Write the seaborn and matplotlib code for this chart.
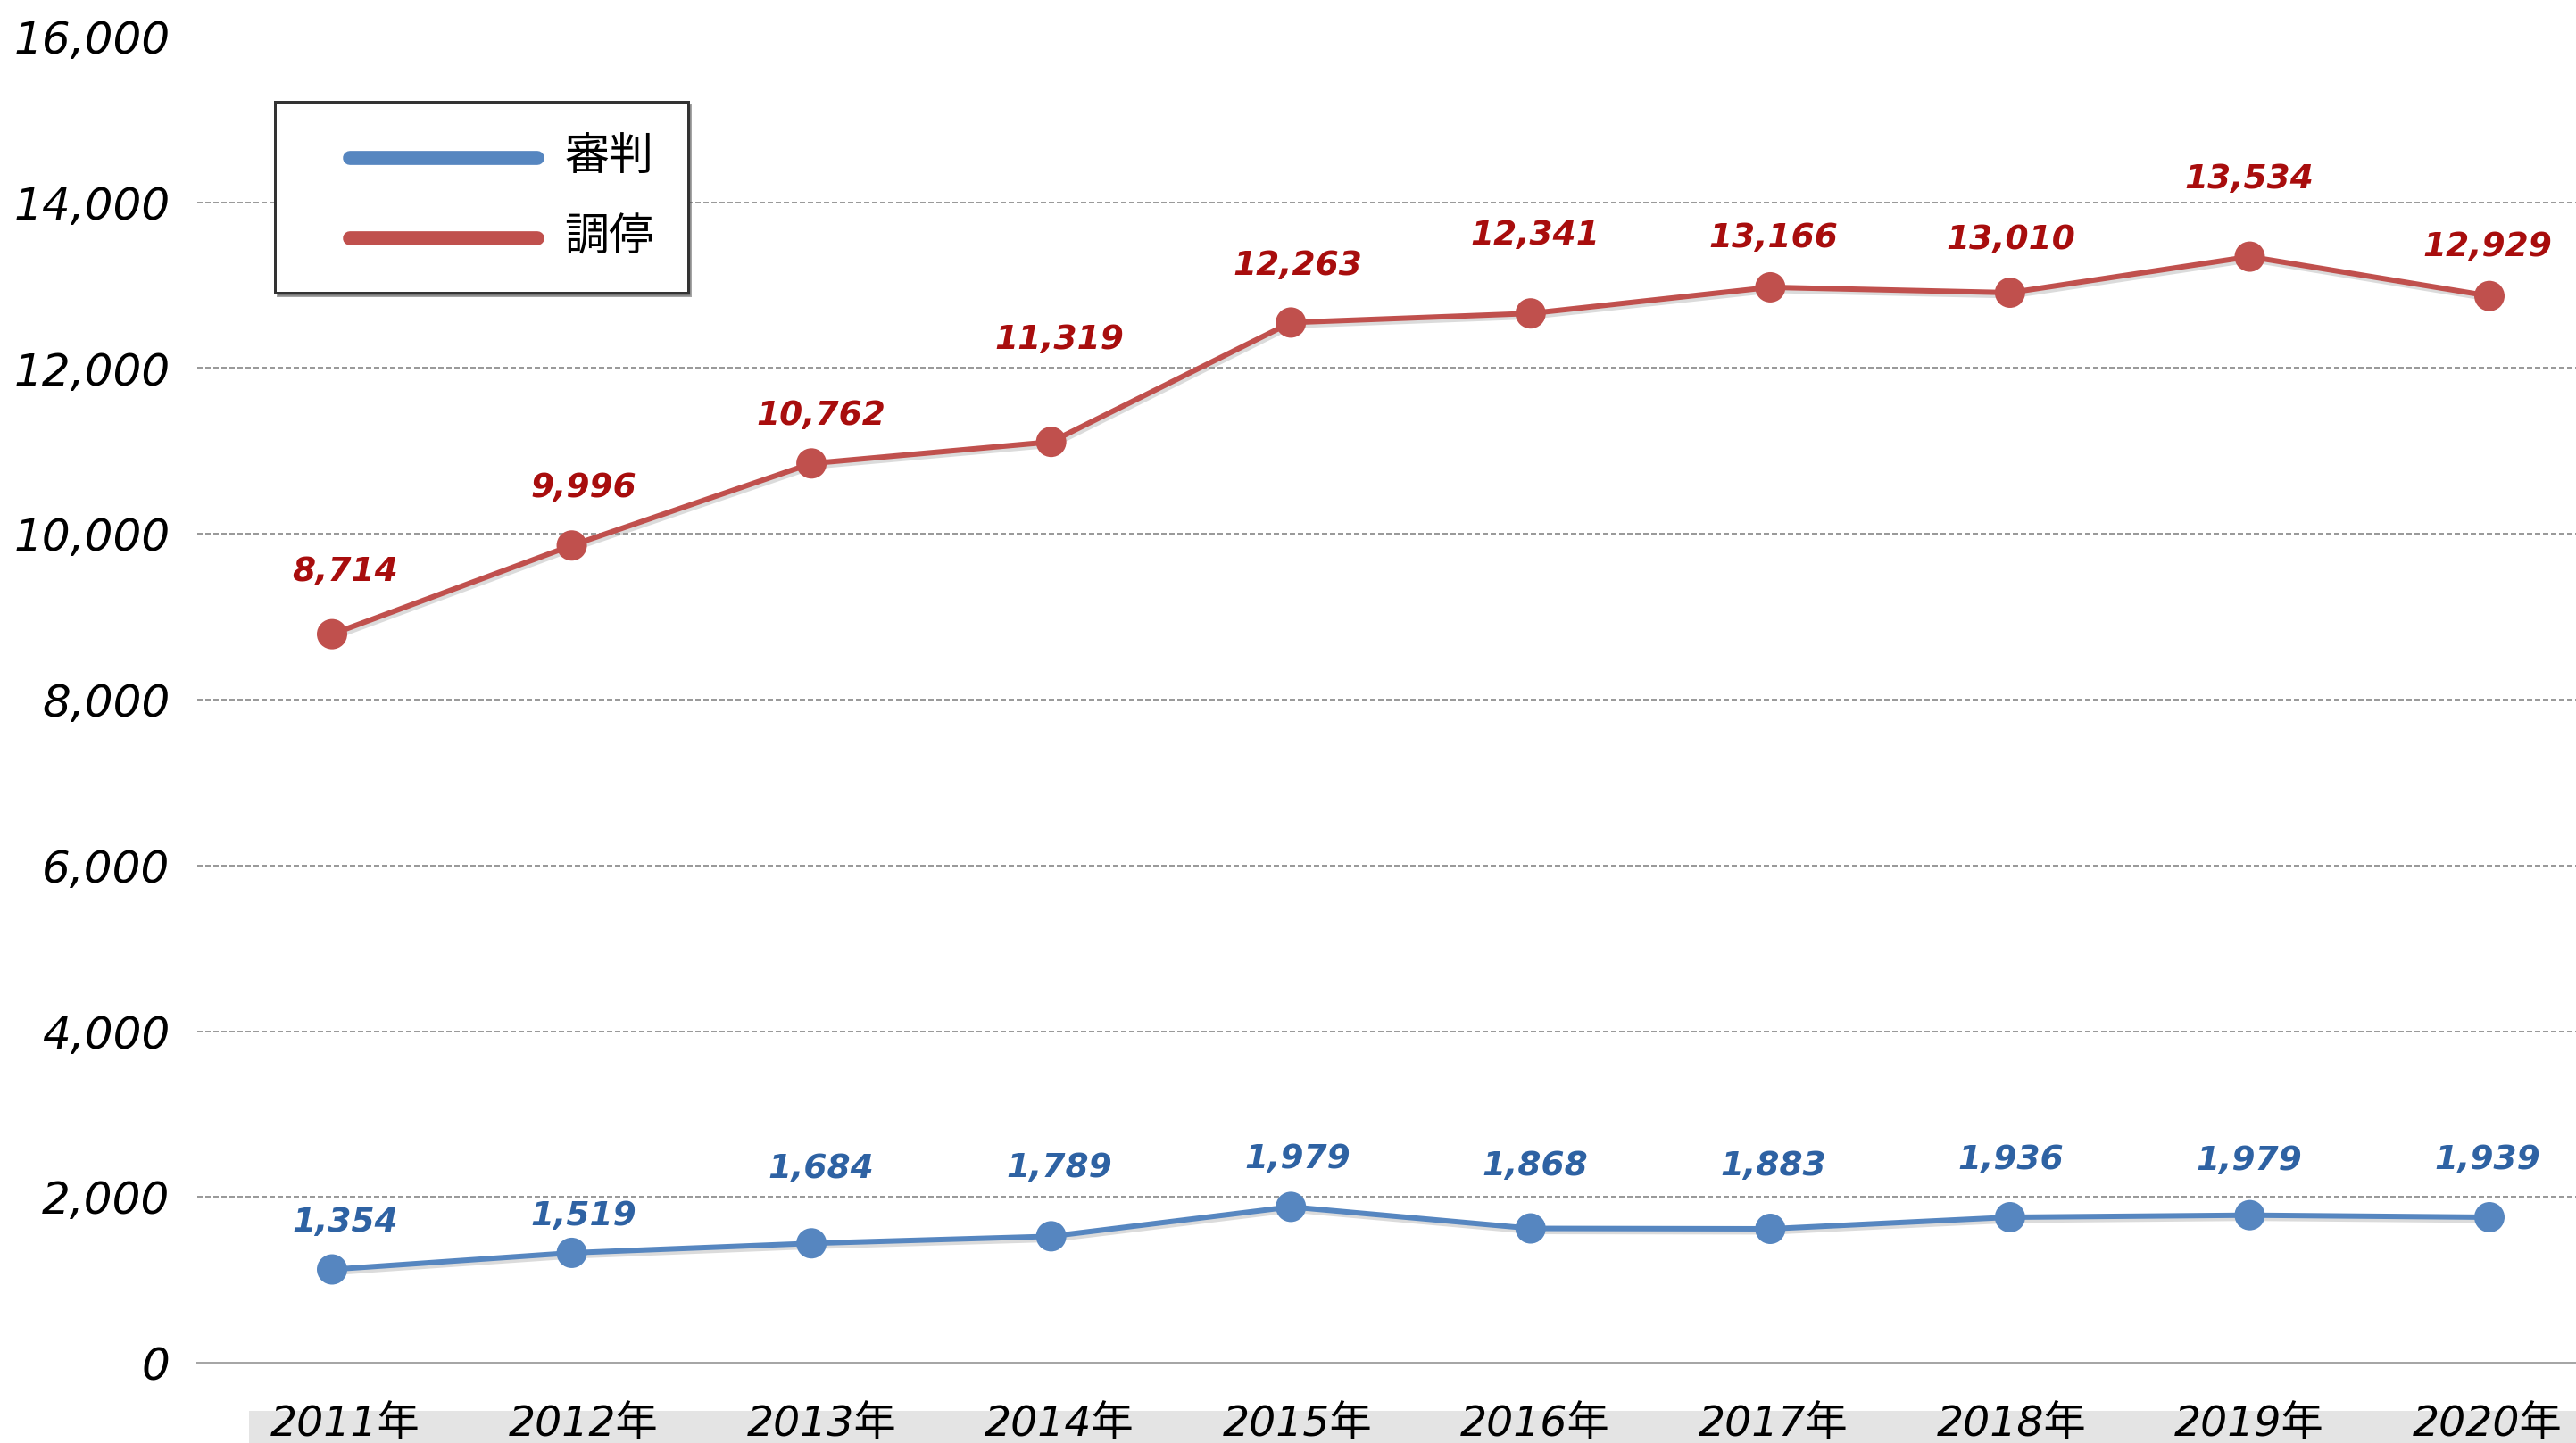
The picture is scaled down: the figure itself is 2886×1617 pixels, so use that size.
import matplotlib
matplotlib.use("Agg")
import matplotlib.pyplot as plt
import matplotlib.patheffects as pe
from matplotlib.lines import Line2D
from matplotlib.patches import Rectangle
from matplotlib.legend_handler import HandlerBase
from matplotlib.ticker import FuncFormatter, FixedLocator
import seaborn as sns
import pandas as pd

# ---------------- data ----------------
years = ["2011年", "2012年", "2013年", "2014年", "2015年",
         "2016年", "2017年", "2018年", "2019年", "2020年"]
series_names = ["審判", "調停"]
shinpan_plot = [1125, 1325, 1440, 1525, 1880, 1620, 1615, 1755, 1780, 1755]
chotei_plot = [8790, 9860, 10850, 11110, 12550, 12660, 12975, 12910, 13345, 12870]
shinpan_labels = ["1,354", "1,519", "1,684", "1,789", "1,979",
                  "1,868", "1,883", "1,936", "1,979", "1,939"]
chotei_labels = ["8,714", "9,996", "10,762", "11,319", "12,263",
                 "12,341", "13,166", "13,010", "13,534", "12,929"]
y_ticks = [0, 2000, 4000, 6000, 8000, 10000, 12000, 14000, 16000]

# label offsets above points (pixels)
shinpan_dy = [53, 41, 83, 76, 53, 70, 70, 64, 61, 64]
chotei_dy = [70, 64, 53, 114, 63, 87, 55, 59, 87, 55]

blue = "#5686C0"
red = "#C0504D"
blue_txt = "#2E62A3"
red_txt = "#A80D0D"

sns.set_theme(style="white")
plt.rcParams["font.family"] = ["DejaVu Sans", "Noto Sans CJK JP"]
plt.rcParams["text.color"] = "black"
plt.rcParams["xtick.color"] = "black"
plt.rcParams["ytick.color"] = "black"

W, H = 2886, 1617
dpi = 100
pt = 72 / dpi
fig = plt.figure(figsize=(W / dpi, H / dpi), dpi=dpi)
fig.patch.set_facecolor("white")

ax_left, ax_right = 221, 2886
ax_top, ax_bot = 41, 1527
ax = fig.add_axes([ax_left / W, 1 - ax_bot / H, (ax_right - ax_left) / W, (ax_bot - ax_top) / H])
ax.patch.set_alpha(0)

n = len(years)
xpos = list(range(n))
df = pd.DataFrame({
    "x": xpos * 2,
    "value": shinpan_plot + chotei_plot,
    "series": [series_names[0]] * n + [series_names[1]] * n,
})

shadow = [pe.SimpleLineShadow(offset=(1.5, -2.5), shadow_color="#999999", alpha=0.35), pe.Normal()]
for name, col in zip(series_names, [blue, red]):
    sub = df[df["series"] == name]
    sns.lineplot(data=sub, x="x", y="value", color=col, lw=6 * pt, marker="o",
                 markersize=34 * pt, markeredgewidth=0, ax=ax, legend=False,
                 path_effects=shadow, zorder=3)

# axis scaling: point 0 at px 372, point 9 at px 2789
px_per_unit = (2789 - 372) / 9
ax.set_xlim(-(372 - ax_left) / px_per_unit, (ax_right - 372) / px_per_unit)
ax.set_ylim(0, 16000)

# category geometry
cat_w = 266.6 / px_per_unit
cat0 = (387 - 372) / px_per_unit
centers = [cat0 + cat_w * i for i in range(n)]
bounds = [cat0 + cat_w * (i + 0.5) for i in range(n - 1)]

ax.xaxis.set_major_locator(FixedLocator(centers))
ax.set_xticklabels(years)
ax.xaxis.set_minor_locator(FixedLocator(bounds))
ax.tick_params(axis="x", which="major", length=0, pad=34, labelsize=34, labelcolor="black")
ax.tick_params(axis="x", which="minor", length=32 * pt, width=2 * pt,
               direction="inout", color="#A6A6A6")
for t in ax.get_xticklabels():
    t.set_fontstyle("italic")

ax.yaxis.set_major_locator(FixedLocator(y_ticks))
ax.yaxis.set_major_formatter(FuncFormatter(lambda v, p: f"{int(v):,}"))
ax.tick_params(axis="y", length=0, pad=22, labelsize=36, labelcolor="black")
for t in ax.get_yticklabels():
    t.set_fontstyle("italic")

ax.set_xlabel("")
ax.set_ylabel("")
for s in ["top", "right", "left"]:
    ax.spines[s].set_visible(False)
ax.spines["bottom"].set_color("#A6A6A6")
ax.spines["bottom"].set_linewidth(3 * pt)

for yv in y_ticks[1:]:
    ax.axhline(yv, color="#9A9A9A", lw=2 * pt, ls=(0, (3, 1.5)), zorder=1)

# data labels
for i in range(n):
    ax.annotate(shinpan_labels[i], (centers[i], shinpan_plot[i]),
                xytext=(0, shinpan_dy[i] * pt), textcoords="offset points",
                ha="center", va="center", fontsize=27, fontweight="bold",
                fontstyle="italic", color=blue_txt, zorder=5)
    ax.annotate(chotei_labels[i], (centers[i], chotei_plot[i]),
                xytext=(0, chotei_dy[i] * pt), textcoords="offset points",
                ha="center", va="center", fontsize=27, fontweight="bold",
                fontstyle="italic", color=red_txt, zorder=5)

# gray band under category labels
fig.patches.append(Rectangle((279 / W, 0), 1 - 279 / W, 36 / H, transform=fig.transFigure,
                             facecolor="#E4E4E4", edgecolor="none", zorder=-5))


# legend: thick rounded line, inset from the left of the handle box
class InsetLine(HandlerBase):
    def __init__(self, lead_frac, dy=0.0, **kw):
        super().__init__(**kw)
        self.lead_frac = lead_frac
        self.dy = dy

    def create_artists(self, legend, orig_handle, xdescent, ydescent, width, height,
                       fontsize, trans):
        y = height / 2 - ydescent + self.dy
        x0 = -xdescent + width * self.lead_frac
        x1 = -xdescent + width
        ln = Line2D([x0, x1], [y, y], color=orig_handle.get_color(),
                    lw=orig_handle.get_linewidth(), solid_capstyle="round")
        ln.set_transform(trans)
        return [ln]


handles = [Line2D([0], [0], color=blue, lw=15.7 * pt),
           Line2D([0], [0], color=red, lw=15.7 * pt)]
leg = ax.legend(handles, series_names, loc="upper left",
                bbox_to_anchor=(308 / W, 1 - 114 / H), bbox_transform=fig.transFigure,
                fontsize=36, frameon=True, fancybox=False, shadow=True,
                edgecolor="#333333", framealpha=1, borderpad=0.76,
                handlelength=5.12, handletextpad=0.61, labelspacing=0.85,
                borderaxespad=0,
                handler_map={Line2D: InsetLine(45.5 / 256, dy=-3)})
leg.get_frame().set_linewidth(3 * pt)
for t in leg.get_texts():
    t.set_color("black")

fig.savefig("out.png", dpi=dpi)
